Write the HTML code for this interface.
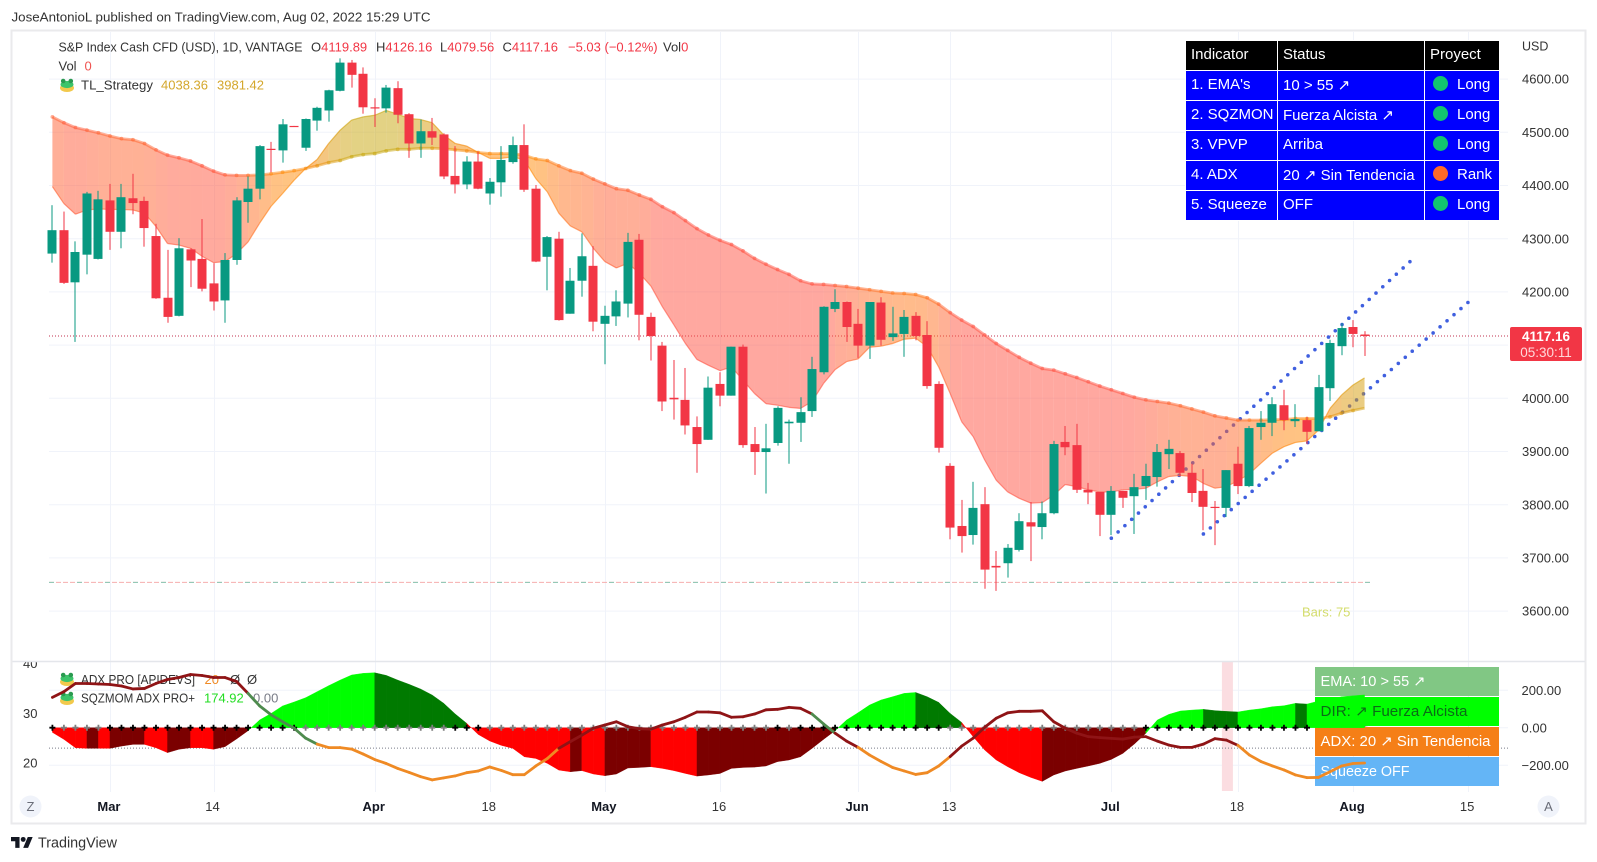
<!DOCTYPE html>
<html lang="en">
<head>
<meta charset="utf-8">
<title>S&amp;P Index Cash CFD chart</title>
<style>
html,body{margin:0;padding:0;background:#fff;}
body{width:1597px;height:862px;overflow:hidden;position:relative;font-family:"Liberation Sans","DejaVu Sans",sans-serif;}
svg{position:absolute;left:0;top:0;}
svg text{font-family:"Liberation Sans","DejaVu Sans",sans-serif;}
#status-table{position:absolute;left:1185px;top:40px;border-collapse:separate;border-spacing:1px;background:#fff;font-size:15px;color:#fff;table-layout:fixed;width:315px;}
#status-table td,#status-table th{background:#0000ff;height:29px;padding:0 0 2px 5px;text-align:left;font-weight:normal;box-sizing:border-box;white-space:nowrap;overflow:hidden;}
#status-table th{background:#000;padding-bottom:3px;}
.dot{display:inline-block;width:15px;height:15px;border-radius:50%;vertical-align:-2px;margin:0 9px 0 3px;}
.g{background:#12c56f;}.o{background:#ff6a28;}
</style>
</head>
<body>
<svg id="chart" width="1597" height="862" viewBox="0 0 1597 862" xmlns="http://www.w3.org/2000/svg">
  <text x="11.5" y="21.5" font-size="13" fill="#333" textLength="419" lengthAdjust="spacingAndGlyphs">JoseAntonioL published on TradingView.com, Aug 02, 2022 15:29 UTC</text>
  <rect x="11.5" y="30.5" width="1574" height="793" fill="#fff" stroke="#eaeaec" stroke-width="2"/>
  <g id="layer-grid"></g>
  <g id="layer-main"></g>
  <g id="layer-pane2"></g>
  <g id="layer-axes"></g>

  <g font-size="13">
    <text x="58.5" y="51.5" fill="#333" textLength="244" lengthAdjust="spacingAndGlyphs">S&amp;P Index Cash CFD (USD), 1D, VANTAGE</text>
    <text x="311" y="51.5" fill="#333">O<tspan fill="#f23645">4119.89</tspan></text>
    <text x="376" y="51.5" fill="#333">H<tspan fill="#f23645">4126.16</tspan></text>
    <text x="440" y="51.5" fill="#333">L<tspan fill="#f23645">4079.56</tspan></text>
    <text x="502.5" y="51.5" fill="#333">C<tspan fill="#f23645">4117.16</tspan></text>
    <text x="568" y="51.5" fill="#f23645">−5.03 (−0.12%)</text>
    <text x="663" y="51.5" fill="#333">Vol<tspan fill="#f23645">0</tspan></text>
    <text x="58.5" y="70.5" fill="#333">Vol</text>
    <text x="84.5" y="70.5" fill="#ef5350">0</text>
    <g transform="translate(67,85)"><ellipse cx="0" cy="3" rx="7" ry="4" fill="#f2c94c"/><ellipse cx="0" cy="-0.5" rx="6.5" ry="3.6" fill="#3cc46a"/><circle cx="-3.8" cy="-4" r="2.3" fill="#2a9a50"/><circle cx="3.8" cy="-4" r="2.3" fill="#2a9a50"/></g>
    <text x="81" y="89.5" fill="#333" textLength="72" lengthAdjust="spacingAndGlyphs">TL_Strategy</text>
    <text x="161" y="89.5" fill="#d4a72c">4038.36</text>
    <text x="217" y="89.5" fill="#d4a72c">3981.42</text>
  </g>
  <text x="1522" y="50.5" font-size="12.5" fill="#333">USD</text>
  <text x="1302" y="616.5" font-size="13" fill="#d3dc6a">Bars: 75</text>

  <g>
    <rect x="1510" y="327" width="72" height="34" rx="2" fill="#f23645"/>
    <text x="1546" y="341" font-size="13.5" font-weight="bold" fill="#fff" text-anchor="middle">4117.16</text>
    <text x="1546" y="357" font-size="13.5" fill="#ffd7da" text-anchor="middle">05:30:11</text>
  </g>

  <g><circle cx="30.5" cy="806.5" r="11" fill="#f0f3fa"/><text x="30.5" y="811" font-size="13" fill="#6a6d78" text-anchor="middle">Z</text></g>
  <g><circle cx="1548.5" cy="806.5" r="11" fill="#f0f3fa"/><text x="1548.5" y="811" font-size="13" fill="#6a6d78" text-anchor="middle">A</text></g>

  <g transform="translate(11,834.5) scale(0.61)"><path d="M14 22H7V11H0V4h14v18zM28 22h-8l7.5-18h8L28 22z" fill="#131722"/><circle cx="20" cy="8" r="4" fill="#131722"/></g>
  <text x="38" y="847.5" font-size="15" fill="#333" textLength="79" lengthAdjust="spacingAndGlyphs">TradingView</text>
</svg>

<table id="status-table">
  <colgroup><col style="width:91px"><col style="width:146px"><col style="width:74px"></colgroup>
  <tr><th>Indicator</th><th>Status</th><th>Proyect</th></tr>
  <tr><td>1. EMA's</td><td>10 &gt; 55 ↗</td><td><span class="dot g"></span>Long</td></tr>
  <tr><td>2. SQZMON</td><td>Fuerza Alcista ↗</td><td><span class="dot g"></span>Long</td></tr>
  <tr><td>3. VPVP</td><td>Arriba</td><td><span class="dot g"></span>Long</td></tr>
  <tr><td>4. ADX</td><td>20 ↗ Sin Tendencia</td><td><span class="dot o"></span>Rank</td></tr>
  <tr><td>5. Squeeze</td><td>OFF</td><td><span class="dot g"></span>Long</td></tr>
</table>

<script>
const opens = [4272,4316,4218,4270,4262,4372,4313,4376,4371,4305,
4189,4155,4280,4262,4216,4184,4260,4369,4394,4469,
4466,4512,4471,4522,4541,4578,4631,4610,4547,4545,
4583,4534,4479,4502,4496,4418,4402,4445,4385,4406,
4444,4476,4394,4266,4300,4159,4221,4249,4140,4154,
4178,4298,4153,4099,4001,3997,3946,3922,4027,4005,
4097,3914,3899,3916,3953,3954,3976,4049,4168,4181,
4140,4099,4180,4115,4121,4155,4119,4027,3873,3760,
3743,3801,3685,3690,3715,3767,3758,3784,3918,3912,
3828,3824,3781,3826,3816,3835,3852,3895,3897,3860,
3826,3796,3794,3877,3835,3946,3954,3987,3957,3959,
3938,4019,4098,4134,4119.89];
const highs = [4363,4351,4295,4388,4390,4403,4403,4422,4379,4328,
4279,4301,4282,4337,4254,4273,4378,4417,4476,4482,
4525,4512,4526,4548,4580,4639,4636,4622,4564,4589,
4596,4536,4524,4527,4498,4474,4455,4464,4414,4474,
4492,4515,4401,4305,4313,4245,4310,4286,4174,4203,
4311,4309,4161,4106,4072,4057,3966,4041,4049,4097,
4101,3946,3952,3985,3960,4002,4078,4173,4205,4182,
4168,4181,4190,4172,4166,4162,4145,4032,3878,3809,
3843,3833,3713,3726,3784,3805,3806,3920,3948,3952,
3841,3824,3835,3826,3858,3877,3914,3922,3901,3877,
3867,3807,3865,3909,3948,3976,4002,4016,3989,3965,
4044,4110,4141,4147,4126.16];
const lows = [4255,4215,4106,4233,4261,4279,4282,4346,4285,4187,
4142,4154,4209,4201,4165,4142,4251,4330,4374,4425,
4443,4510,4465,4503,4520,4577,4584,4535,4510,4537,
4517,4452,4452,4476,4412,4385,4393,4393,4364,4379,
4441,4388,4256,4203,4146,4159,4191,4126,4064,4136,
4152,4109,4071,3976,3960,3932,3860,3922,3985,4005,
3907,3856,3821,3911,3877,3918,3965,4045,4162,4106,
4076,4074,4099,4108,4078,4109,4018,3898,3735,3710,
3725,3642,3638,3663,3712,3694,3735,3782,3893,3822,
3801,3741,3743,3794,3745,3809,3834,3867,3853,3805,
3752,3724,3777,3820,3833,3922,3929,3940,3946,3914,
3938,3995,4081,4096,4079.56];
const closes = [4316,4217,4275,4385,4374,4313,4378,4367,4320,4188,
4153,4282,4259,4206,4182,4260,4372,4394,4474,4467,
4515,4510,4525,4546,4579,4631,4608,4547,4546,4584,
4533,4479,4502,4490,4417,4402,4445,4394,4407,4448,
4476,4392,4257,4303,4147,4221,4267,4144,4155,4182,
4294,4157,4117,3994,3998,3949,3914,4020,4005,4097,
3912,3899,3906,3982,3956,3974,4055,4172,4181,4134,
4099,4181,4110,4122,4153,4117,4023,3907,3757,3741,
3794,3678,3682,3719,3769,3759,3784,3914,3908,3828,
3823,3781,3826,3813,3833,3854,3899,3905,3860,3822,
3796,3794,3865,3835,3944,3954,3989,3959,3961,3937,
4021,4104,4132,4121,4117.16];
const slowEma = [4529,4518,4509,4504,4499,4493,4488,4486,4479,4467,
4457,4452,4446,4437,4427,4420,4419,4419,4420,4422,
4425,4428,4432,4437,4443,4447,4454,4458,4460,4465,
4468,4468,4470,4470,4469,4467,4465,4462,4460,4460,
4460,4457,4450,4447,4437,4428,4423,4412,4403,4394,
4391,4382,4374,4360,4349,4334,4319,4307,4297,4289,
4277,4263,4252,4242,4233,4221,4215,4214,4212,4210,
4207,4204,4201,4198,4197,4195,4189,4177,4161,4147,
4135,4119,4103,4090,4077,4066,4056,4053,4046,4039,
4031,4023,4016,4009,4002,3997,3994,3991,3986,3980,
3974,3967,3963,3959,3959,3959,3960,3960,3962,3962,
3962,3965,3972,3977,3981.42];
const fastEma = [4398,4366,4346,4354,4356,4355,4355,4354,4348,4323,
4291,4288,4282,4267,4255,4257,4272,4294,4329,4361,
4385,4410,4432,4449,4479,4504,4523,4529,4532,4541,
4534,4526,4524,4518,4495,4479,4474,4462,4451,4451,
4454,4448,4413,4388,4348,4324,4313,4282,4257,4245,
4254,4235,4211,4172,4138,4103,4073,4062,4052,4059,
4034,4009,3990,3987,3983,3981,3994,4028,4054,4069,
4074,4096,4098,4103,4111,4113,4097,4059,4009,3956,
3928,3884,3846,3824,3812,3803,3804,3818,3838,3834,
3828,3824,3824,3828,3829,3831,3843,3853,3855,3853,
3840,3831,3834,3845,3858,3878,3897,3909,3917,3920,
3940,3981,4006,4025,4038.36];
const momentum = [-25,-62,-107,-110,-110,-110,-98,-89,-89,-107,
-133,-115,-107,-107,-115,-101,-60,-16,41,76,
116,137,160,192,224,254,281,290,293,279,
254,231,206,174,130,73,23,-36,-71,-94,
-110,-155,-164,-190,-226,-235,-229,-247,-256,-247,
-215,-212,-208,-217,-229,-244,-258,-252,-244,-217,
-212,-210,-204,-181,-172,-155,-110,-62,-16,41,
80,121,148,165,183,188,165,135,76,28,
-48,-119,-172,-208,-240,-265,-286,-252,-231,-217,
-204,-190,-169,-137,-87,-30,41,71,89,94,
98,91,87,84,94,101,112,117,130,126,
142,151,165,170,174.92];
const momentumRuns = [[3,'R'],[1,'D'],[1,'R'],[3,'D'],[2,'R'],[2,'D'],[2,'R'],[3,'D'],[11,'L'],[8,'E'],[9,'R'],[1,'D'],[2,'R'],[4,'D'],[4,'R'],[12,'D'],[7,'L'],[4,'E'],[7,'R'],[9,'D'],[5,'L'],[3,'E'],[5,'L'],[1,'E'],[5,'L']];
const adxValues = [33.2,34.35,36,36,35.9,35.8,35.5,34.9,35,36,
36.8,37.2,37.8,37.6,37.2,37.2,36.4,34,31.5,29.7,
28.3,27,25,23.8,23.1,23.1,22.8,21.8,20.7,19.9,
18.9,18.1,17.25,16.6,17,17.4,18.05,18.4,19.2,18.5,
17.65,17.65,19.4,20.9,22.95,24.3,25.6,27,27.65,28.3,
27.3,26.9,26.8,27.65,28.3,29.2,30.26,30.26,30.1,29.2,
29.3,29.85,30.7,30.8,31.2,31,29.85,27.85,26,24.4,
23.15,21.6,20.3,19.1,18.4,17.7,18.05,19.4,21.3,23.4,
25,27.2,29,30.1,30.4,30.4,30.5,28.3,27,26,
25.3,25.1,24.96,24.8,25.2,25.3,24.4,23.6,23.15,23.15,
23.8,24.9,24.6,23.55,21.6,20.3,19.4,18.6,17.6,17.05,
17.1,18.25,19.4,19.9,20];
const adxRuns = [[17,'r'],[6,'g'],[21,'o'],[22,'r'],[2,'g'],[2,'r'],[8,'o'],[25,'r'],[11,'o']];
const squeezeRuns = [[1,1],[4,0],[17,1],[13,0],[3,1],[25,0],[1,1],[1,0],[13,1],[17,0],[15,1],[5,0]];
const priceTicks = [4600,4500,4400,4300,4200,4100,4000,3900,3800,3700,3600];
const momentumTicks = [200,0,-200];
const adxTicks = [40,30,20];
const timeLabels = ['Mar','14','Apr','18','May','16','Jun','13','Jul','18','Aug','15'];
const timeIndexes = [5,14,28,38,48,58,70,78,92,103,113,123];
const lastClose = 4117.16;
const supportPrice = 3654;
const highlightIndex = 102;
const adxThreshold = 23;
const upperTrend = [92,3737,118.3,4264];
const lowerTrend = [100,3745,123.4,4188];

const NS = 'http://www.w3.org/2000/svg';
const xAt = i => 52.4 + 11.51 * i;
const yPrice = p => 398.3 + (4000 - p) * 0.532;
const yMom = v => 727.7 - v * 0.1875;
const yAdx = a => 763 - (a - 20) * 4.97;
const gridL = document.getElementById('layer-grid');
const mainL = document.getElementById('layer-main');
const paneL = document.getElementById('layer-pane2');
const axesL = document.getElementById('layer-axes');

function mk(tag, attrs, parent, text) {
  const e = document.createElementNS(NS, tag);
  for (const k in attrs) e.setAttribute(k, attrs[k]);
  if (text !== undefined) e.textContent = text;
  parent.appendChild(e);
  return e;
}
function expand(runs) {
  const out = [];
  runs.forEach(r => { for (let n = 0; n < r[0]; n++) out.push(r[1]); });
  return out;
}
function mix(a, b, t) {
  return 'rgb(' + a.map((v, k) => Math.round(v + (b[k] - v) * t)).join(',') + ')';
}
function clamp(v) { return Math.max(0, Math.min(1, v)); }
function cloudColor(fast, slow) {
  const gap = Math.abs(fast - slow);
  if (fast < slow) return mix([255, 137, 5], [255, 81, 65], clamp((gap - 40) / 140));
  return mix([250, 130, 0], [200, 165, 10], clamp(gap / 70));
}

/* grid */
priceTicks.forEach(p => {
  const el = mk('line', {x1: 49, x2: 1508, y1: yPrice(p), y2: yPrice(p), stroke: '#f0f3fa', 'stroke-width': 1}, gridL);
  
  
});
momentumTicks.forEach(v => {
  const el = mk('line', {x1: 49, x2: 1508, y1: yMom(v), y2: yMom(v), stroke: '#f0f3fa', 'stroke-width': 1}, gridL);
  
  
});
timeIndexes.forEach(i => {
  const x = Math.round(xAt(i)) + 0.5;
  const el = mk('line', {x1: x, x2: x, y1: 32, y2: 792, stroke: '#f0f3fa', 'stroke-width': 1}, gridL);
  
  
});

/* price pane */
const supA = mk('line', {x1: 49, x2: 1370, y1: yPrice(supportPrice), y2: yPrice(supportPrice), stroke: '#f4a0a0', 'stroke-width': 1, 'stroke-dasharray': '5 2', 'stroke-opacity': 0.85}, mainL);


const supB = mk('line', {x1: 49, x2: 1370, y1: yPrice(supportPrice), y2: yPrice(supportPrice), stroke: '#86c9b4', 'stroke-width': 1, 'stroke-dasharray': '5 23'}, mainL);


const lastLine = mk('line', {x1: 49, x2: 1510, y1: yPrice(lastClose), y2: yPrice(lastClose), stroke: '#c2304f', 'stroke-width': 1, 'stroke-dasharray': '1 2'}, mainL);



[upperTrend, lowerTrend].forEach(t => {
  const el = mk('line', {x1: xAt(t[0]), y1: yPrice(t[1]), x2: xAt(t[2]), y2: yPrice(t[3]), stroke: '#3f5fdf', 'stroke-width': 3.6, 'stroke-linecap': 'round', 'stroke-dasharray': '0 9.25'}, mainL);
  
  
});

for (let i = 0; i < slowEma.length - 1; i++) {
  const fm = (fastEma[i] + fastEma[i + 1]) / 2, sm = (slowEma[i] + slowEma[i + 1]) / 2;
  const c = cloudColor(fm, sm);
  const pts = [[xAt(i), yPrice(fastEma[i])], [xAt(i + 1), yPrice(fastEma[i + 1])], [xAt(i + 1), yPrice(slowEma[i + 1])], [xAt(i), yPrice(slowEma[i])]];
  const el = mk('polygon', {points: pts.map(p => p.join(',')).join(' '), fill: c, 'fill-opacity': 0.5}, mainL);
  
  
}
for (let i = 0; i < slowEma.length - 1; i++) {
  const fm = (fastEma[i] + fastEma[i + 1]) / 2, sm = (slowEma[i] + slowEma[i + 1]) / 2;
  const c = cloudColor(fm, sm);
  const s = mk('line', {x1: xAt(i), y1: yPrice(slowEma[i]), x2: xAt(i + 1), y2: yPrice(slowEma[i + 1]), stroke: c, 'stroke-width': 2.8, 'stroke-opacity': 0.5}, mainL);
  
  
  const f = mk('line', {x1: xAt(i), y1: yPrice(fastEma[i]), x2: xAt(i + 1), y2: yPrice(fastEma[i + 1]), stroke: c, 'stroke-width': 1.2, 'stroke-opacity': 0.6}, mainL);
  
  
  const d = mk('circle', {cx: xAt(i), cy: yPrice(slowEma[i]), r: 1.9, fill: c, 'fill-opacity': 0.5}, mainL);
  
  
}
opens.forEach((o, i) => {
  const c = closes[i], h = highs[i], l = lows[i];
  const up = c >= o;
  const col = up ? '#089981' : '#f23645';
  const x = Math.round(xAt(i));
  const g = mk('g', {}, mainL);
  
  
  const w = mk('rect', {x: x - 0.5, y: yPrice(h), width: 1, height: Math.max(1, yPrice(l) - yPrice(h)), fill: col}, g);
  
  
  const top = yPrice(Math.max(o, c));
  const b = mk('rect', {x: x - 4.5, y: top, width: 9, height: Math.max(1.2, yPrice(Math.min(o, c)) - top), fill: col}, g);
  
  
});

/* lower pane */
const band = mk('rect', {x: xAt(highlightIndex) - 4.5, y: 661, width: 11, height: 130, fill: '#fbdde1'}, paneL);


const thr = mk('line', {x1: 49, x2: 1508, y1: yAdx(adxThreshold), y2: yAdx(adxThreshold), stroke: '#787b86', 'stroke-width': 1, 'stroke-dasharray': '1 2'}, paneL);



const squeeze = expand(squeezeRuns);
function drawCrosses(test) {
  momentum.forEach((v, i) => {
    if (!test(xAt(i))) return;
    const x = xAt(i), y = yMom(0);
    const el = mk('path', {d: 'M' + (x - 3) + ' ' + y + 'h6M' + x + ' ' + (y - 3) + 'v6', stroke: squeeze[i] ? '#000' : '#7d7d7d', 'stroke-width': 1.8, fill: 'none'}, paneL);
    
    
  });
}
drawCrosses(x => x >= 1315);

const boxRows = [['#81c784', 'EMA: 10 > 55 ↗', '#fff', 105], ['#00ff00', 'DIR: ↗ Fuerza Alcista', '#0b6b17', 147], ['#f57f17', 'ADX: 20 ↗ Sin Tendencia', '#fff', 170], ['#64b5f6', 'Squeeze OFF', '#fff', 89]];
boxRows.forEach((r, k) => {
  const el = mk('rect', {x: 1315, y: 667 + k * 30, width: 184, height: 29, fill: r[0]}, paneL);
  
  
});

const momColors = {R: '#ff0000', D: '#7b0000', L: '#00ff00', E: '#007a00'};
const momStates = expand(momentumRuns);
for (let i = 0; i < momentum.length - 1; i++) {
  const c = momColors[momStates[i]];
  const pts = [[xAt(i), yMom(0)], [xAt(i), yMom(momentum[i])], [xAt(i + 1), yMom(momentum[i + 1])], [xAt(i + 1), yMom(0)]];
  const el = mk('polygon', {points: pts.map(p => p.join(',')).join(' '), fill: c, stroke: c, 'stroke-width': 0.4}, paneL);
  
  
}
drawCrosses(x => x < 1315);
boxRows.forEach((r, k) => {
  const el = mk('text', {x: 1320.5, y: 686 + k * 30, 'font-size': 14.5, fill: r[2], textLength: r[3], lengthAdjust: 'spacingAndGlyphs'}, paneL, r[1]);
  
  
});

function legendText(x, y, fill, txt, len) {
  const a = {x: x, y: y, 'font-size': 13, fill: fill};
  if (len) { a.textLength = len; a.lengthAdjust = 'spacingAndGlyphs'; }
  return mk('text', a, paneL, txt);
}
const legendItems = [[81, 684, '#333', 'ADX PRO [APIDEVS]', 114], [204.5, 684, '#f08a24', '20'], [230, 684, '#333', 'Ø'], [247, 684, '#333', 'Ø'], [81, 702.5, '#333', 'SQZMOM ADX PRO+', 114], [204, 702.5, '#22dd22', '174.92'], [253, 702.5, '#787b86', '0.00']];
legendItems.forEach(t => {
  const el = legendText(t[0], t[1], t[2], t[3], t[4]);
  
  
});
[679, 698].forEach(cy => {
  const frog = mk('g', {transform: 'translate(67,' + cy + ')'}, paneL);
  
  
  mk('ellipse', {cx: 0, cy: 3, rx: 7, ry: 4, fill: '#f2c94c'}, frog);
  mk('ellipse', {cx: 0, cy: -0.5, rx: 6.5, ry: 3.6, fill: '#3cc46a'}, frog);
  mk('circle', {cx: -3.8, cy: -4, r: 2.3, fill: '#2a9a50'}, frog);
  mk('circle', {cx: 3.8, cy: -4, r: 2.3, fill: '#2a9a50'}, frog);
});

const adxColors = {r: '#8f1416', g: '#4e8b4e', o: '#ef8a24'};
const adxStates = expand(adxRuns);
for (let i = 0; i < adxValues.length - 1; i++) {
  const el = mk('line', {x1: xAt(i), y1: yAdx(adxValues[i]), x2: xAt(i + 1), y2: yAdx(adxValues[i + 1]), stroke: adxColors[adxStates[i]], 'stroke-width': 2.8, 'stroke-linecap': 'round'}, paneL);
  
  
}

/* axes */
priceTicks.forEach(p => {
  const el = mk('text', {x: 1522, y: yPrice(p) + 4.6, 'font-size': 13, fill: '#333'}, axesL, p.toFixed(2));
  
  
});
momentumTicks.forEach(v => {
  const el = mk('text', {x: 1521.5, y: yMom(v) + 4.6, 'font-size': 13, fill: '#333'}, axesL, v.toFixed(2).replace('-', '−'));
  
  
});
adxTicks.forEach(a => {
  const el = mk('text', {x: 23, y: yAdx(a) + 4.6, 'font-size': 13, fill: '#333'}, axesL, String(a));
  
  
});
const mask = mk('rect', {x: 13, y: 650, width: 36, height: 11, fill: '#fff'}, axesL);


const sep = mk('line', {x1: 12.5, x2: 1585, y1: 661.5, y2: 661.5, stroke: '#e4e6eb', 'stroke-width': 1.4}, axesL);


timeLabels.forEach((t, k) => {
  const isMonth = /[A-Za-z]/.test(t);
  const a = {x: xAt(timeIndexes[k]) - 1, y: 811.2, 'font-size': 13, fill: isMonth ? '#131722' : '#333', 'text-anchor': 'middle'};
  if (isMonth) a['font-weight'] = 'bold';
  const el = mk('text', a, axesL, t);
  
  
});
</script>
</body>
</html>
